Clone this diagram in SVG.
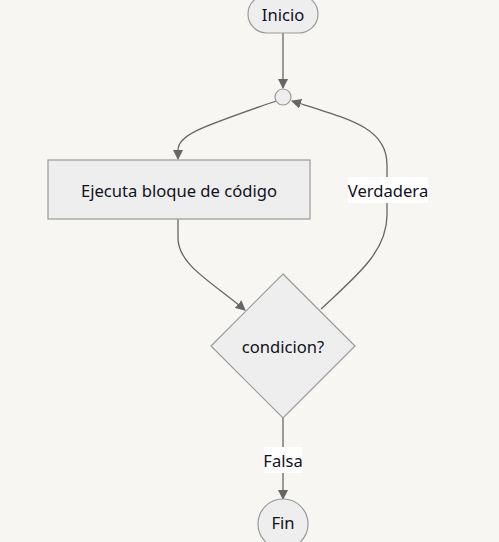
<svg xmlns="http://www.w3.org/2000/svg" width="499" height="542" viewBox="0 0 499 542">
<style>
.node{fill:#eeeeee;stroke:#999999;stroke-width:1.2}
.edge{fill:none;stroke:#666666;stroke-width:1.3}
.t{font-family:"Noto Sans","Liberation Sans",sans-serif;font-size:16.6px;fill:#111122;text-anchor:middle;dominant-baseline:central}
.lbl{fill:#ffffff}
</style>
<defs>
<marker id="arr" viewBox="0 0 10 10" refX="9" refY="5" markerWidth="10" markerHeight="10" markerUnits="userSpaceOnUse" orient="auto">
<path d="M0,0 L10,5 L0,10 z" fill="#666666"/>
</marker>
</defs>
<rect width="499" height="542" fill="#f7f6f3"/>
<g id="connectors">
<path class="edge" d="M283,33 L283,88" marker-end="url(#arr)"/>
<path class="edge" d="M276,101 C205,126 178,134 178,150 L178,159" marker-end="url(#arr)"/>
<path class="edge" d="M178,219 L178,238 C178,265 212,282 245,310" marker-end="url(#arr)"/>
<path class="edge" d="M321,309 C356,276 387,252 387,215 L387,165 C387,128 352,120 292,101" marker-end="url(#arr)"/>
<path class="edge" d="M283,418 L283,499" marker-end="url(#arr)"/>
<rect class="lbl" x="348" y="177" width="80" height="26"/>
<text class="t" x="388" y="190">Verdadera</text>
<rect class="lbl" x="264" y="447" width="38" height="26"/>
<text class="t" x="283" y="460">Falsa</text>
</g>
<g id="inicio">
<rect class="node" x="248" y="-5" width="70" height="38" rx="19"/>
<text class="t" x="283" y="14">Inicio</text>
</g>
<g id="junction">
<circle class="node" cx="283" cy="97" r="8"/>
</g>
<g id="ejecuta">
<rect class="node" x="48" y="160" width="262" height="59"/>
<text class="t" x="179" y="190">Ejecuta bloque de código</text>
</g>
<g id="condicion">
<polygon class="node" points="283,274 355,346 283,418 211,346"/>
<text class="t" x="283" y="346">condicion?</text>
</g>
<g id="fin">
<circle class="node" cx="283" cy="524" r="25"/>
<text class="t" x="283" y="522">Fin</text>
</g>
</svg>
